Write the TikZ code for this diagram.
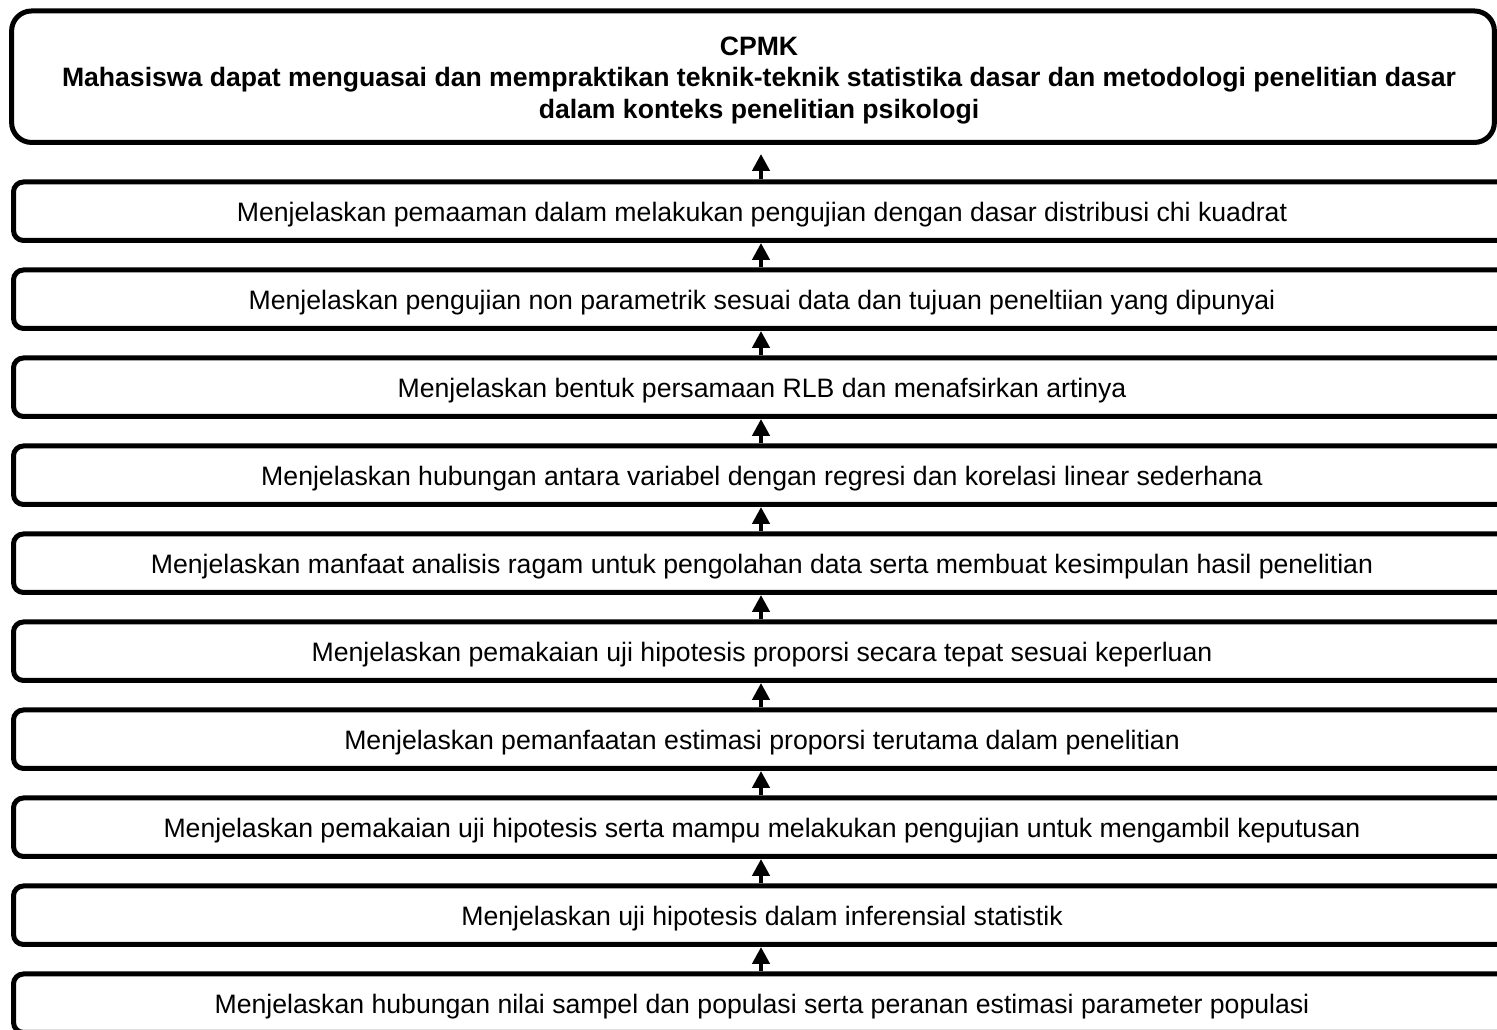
\documentclass[tikz,border=0pt]{standalone}
\usepackage{fontspec}
\setmainfont{Liberation Sans}
\usetikzlibrary{arrows.meta}
\tikzset{
  box/.style={draw=black, line width=5pt, rounded corners=10pt, fill=white,
    minimum width=1497pt, minimum height=58.5pt, inner sep=0pt,
    text height=20pt, text depth=0pt,
    font=\fontsize{26.65}{31}\selectfont},
  topbox/.style={draw=black, line width=5pt, rounded corners=20pt, fill=white,
    minimum width=1482.8pt, minimum height=131.5pt, inner sep=0pt, align=center,
    font=\fontsize{26.6}{31.5}\selectfont\bfseries},
  up/.style={line width=4.5pt, -{Triangle[length=17pt,width=17pt]}}
}
\newcommand{\shiftln}{\hspace*{12pt}}
\begin{document}
\begin{tikzpicture}[x=1pt,y=-1pt]
\useasboundingbox (0,0) rectangle (1497,1029);
\clip (0,0) rectangle (1497,1029);
\fill[white] (0,0) rectangle (1497,1029);
\node[topbox] (top) at (753,76.7) {\rule{0pt}{26pt}\shiftln CPMK\\\shiftln Mahasiswa dapat menguasai dan mempraktikan teknik-teknik statistika dasar dan metodologi penelitian dasar\\\shiftln dalam konteks penelitian psikologi};
\node[box] (b1) at (762,211.2) {Menjelaskan pemaaman dalam melakukan pengujian dengan dasar distribusi chi kuadrat};
\node[box] (b2) at (762,299.2) {Menjelaskan pengujian non parametrik sesuai data dan tujuan peneltiian yang dipunyai};
\node[box] (b3) at (762,387.2) {Menjelaskan bentuk persamaan RLB dan menafsirkan artinya};
\node[box] (b4) at (762,475.2) {Menjelaskan hubungan antara variabel dengan regresi dan korelasi linear sederhana};
\node[box] (b5) at (762,563.2) {Menjelaskan manfaat analisis ragam untuk pengolahan data serta membuat kesimpulan hasil penelitian};
\node[box] (b6) at (762,651.2) {Menjelaskan pemakaian uji hipotesis proporsi secara tepat sesuai keperluan};
\node[box] (b7) at (762,739.2) {Menjelaskan pemanfaatan estimasi proporsi terutama dalam penelitian};
\node[box] (b8) at (762,827.2) {Menjelaskan pemakaian uji hipotesis serta mampu melakukan pengujian untuk mengambil keputusan};
\node[box] (b9) at (762,915.2) {Menjelaskan uji hipotesis dalam inferensial statistik};
\node[box] (b10) at (762,1003.2) {Menjelaskan hubungan nilai sampel dan populasi serta peranan estimasi parameter populasi};
\draw[up, shorten >=9pt] (b1.north -| 761,0) -- (top.south -| 761,0);
\foreach \i/\j in {2/1,3/2,4/3,5/4,6/5,7/6,8/7,9/8,10/9}{
  \draw[up] (b\i.north -| 761,0) -- (b\j.south -| 761,0);
}
\end{tikzpicture}
\end{document}
